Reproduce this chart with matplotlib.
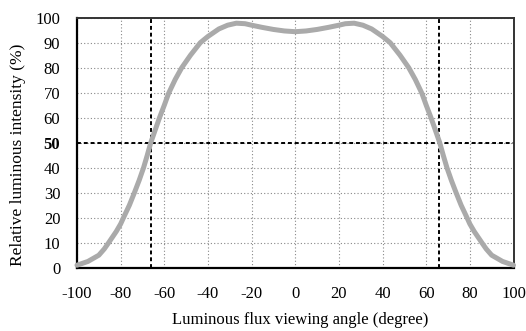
import matplotlib
matplotlib.use("Agg")
import matplotlib.pyplot as plt

angle_left = [-100, -95, -90, -87.5, -85.5, -82, -80, -78.7, -76, -73.7, -71.5, -69.5,
              -67.8, -66.2, -64.2, -62.2, -60, -58, -55, -52, -48, -43.5, -40,
              -35, -31, -27, -23, -20, -15, -10, -5]
intensity_left = [1, 2.5, 5, 7.5, 10, 14.5, 17.5, 20, 25, 30, 35, 40,
                  45, 50, 55, 60, 65, 69.8, 75.3, 80, 85, 90, 92.5,
                  95.5, 97, 97.8, 97.6, 97, 96.1, 95.3, 94.7]
angle_center = [0]
intensity_center = [94.4]
angle_right = [5, 10, 15, 20, 23, 27, 31, 35, 40, 43.5, 48, 52, 55, 58, 60,
               62.2, 64.2, 66.2, 67.8, 69.5, 71.5, 73.7, 76, 78.7, 80, 82, 85.5,
               87.5, 90, 95, 100]
intensity_right = [94.7, 95.3, 96.1, 97, 97.6, 97.8, 97, 95.5, 92.5, 90, 85, 80,
                   75.3, 69.8, 65, 60, 55, 50, 45, 40, 35, 30, 25, 20, 17.5, 14.5,
                   10, 7.5, 5, 2.5, 1]
half_angle = 66
half_level = 50
xticks = [-100, -80, -60, -40, -20, 0, 20, 40, 60, 80, 100]
yticks = [0, 10, 20, 30, 40, 50, 60, 70, 80, 90, 100]

angle = angle_left + angle_center + angle_right
intensity = intensity_left + intensity_center + intensity_right

plt.rcParams['font.family'] = ['Liberation Serif', 'DejaVu Serif']

fig = plt.figure(figsize=(5.26, 3.31), dpi=100)
ax = fig.add_axes([77/526, 1 - 267.7/331, (513.5-77)/526, (267.7-17.7)/331])

ax.set_xlim(-100, 100)
ax.set_ylim(0, 100)
ax.set_xticks(xticks)
ax.set_yticks(yticks)
ax.set_xticklabels([str(t) for t in xticks], fontsize=12)
ax.set_yticklabels([str(t) for t in yticks], fontsize=12)
for lbl in ax.get_yticklabels():
    if lbl.get_text() == str(half_level):
        lbl.set_fontweight('bold')
ax.tick_params(axis='y', length=0, pad=12)
ax.tick_params(axis='x', length=0, pad=13)

ax.grid(True, color='#888888', linestyle=(0, (1, 2)), linewidth=0.8)
ax.set_axisbelow(True)

ax.axhline(half_level, color='black', linestyle=(0, (2, 1.5)), linewidth=1.4, zorder=2)
ax.axvline(-half_angle, color='black', linestyle=(0, (2, 1.5)), linewidth=1.4, zorder=2)
ax.axvline(half_angle, color='black', linestyle=(0, (2, 1.5)), linewidth=1.4, zorder=2)

ax.plot(angle, intensity, color='#aaaaaa', linewidth=3.6, solid_capstyle='round',
        solid_joinstyle='round', zorder=3, clip_on=False)

for side in ['left', 'bottom']:
    ax.spines[side].set_linewidth(1.6)
    ax.spines[side].set_color('black')
for side in ['top', 'right']:
    ax.spines[side].set_linewidth(1.4)
    ax.spines[side].set_color('#333333')

ax.set_xlabel('Luminous flux viewing angle (degree)', fontsize=12)
ax.xaxis.set_label_coords((300 - 77) / (513.5 - 77), -(320 - 267.7) / 250)
ax.xaxis.label.set_verticalalignment('center')
ax.set_ylabel('Relative luminous intensity (%)', fontsize=12.5)
ax.yaxis.set_label_coords(-(77 - 18) / (513.5 - 77), (267.7 - 155) / 250)
ax.yaxis.label.set_verticalalignment('center')

fig.savefig('out.png', dpi=100)
